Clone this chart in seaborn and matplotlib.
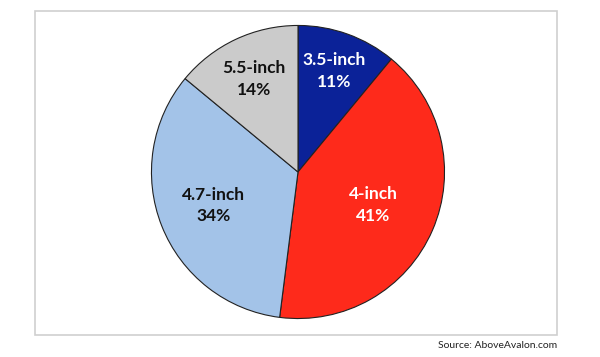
import matplotlib
matplotlib.use("Agg")
import matplotlib.pyplot as plt
import seaborn as sns
import numpy as np
from matplotlib.patches import Rectangle

categories = ["3.5-inch", "4-inch", "4.7-inch", "5.5-inch"]
shares = [11, 41, 34, 14]
colors = ["#0b2298", "#fe2a1b", "#a3c3e8", "#cbcbcb"]
text_colors = ["white", "white", "#111111", "#111111"]
label_radius = [0.73, 0.56, 0.62, 0.70]

sns.set_theme(style="white")
plt.rcParams["font.family"] = ["Lato", "DejaVu Sans"]

fig = plt.figure(figsize=(6, 3.57), dpi=100)
fig.patch.set_facecolor("white")

# outer frame
fig.add_artist(Rectangle((35 / 600, 1 - 335 / 357), (557 - 35) / 600, (335 - 11) / 357,
                         transform=fig.transFigure, fill=False, edgecolor="#cfcfcf", lw=1.2))

cx, cy, r = 298, 172, 148
ax = fig.add_axes([(cx - r) / 600, 1 - (cy + r) / 357, 2 * r / 600, 2 * r / 357])
wedges, _ = ax.pie(shares, colors=colors, startangle=90, counterclock=False,
                   wedgeprops=dict(edgecolor="#222222", linewidth=0.8))
ax.set_xlim(-1.01, 1.01)
ax.set_ylim(-1.01, 1.01)
ax.set_aspect("equal")
ax.axis("off")

for w, cat, val, tc, lr in zip(wedges, categories, shares, text_colors, label_radius):
    ang = np.deg2rad((w.theta1 + w.theta2) / 2)
    ax.text(lr * np.cos(ang), lr * np.sin(ang), f"{cat}\n{val}%", ha="center", va="center",
            color=tc, fontsize=12.5, fontweight="bold", linespacing=1.45)

fig.text(557 / 600, 1 - 346 / 357, "Source: AboveAvalon.com", ha="right", va="center",
         fontsize=7.5, color="#222222")

fig.savefig("out.png", dpi=100)
